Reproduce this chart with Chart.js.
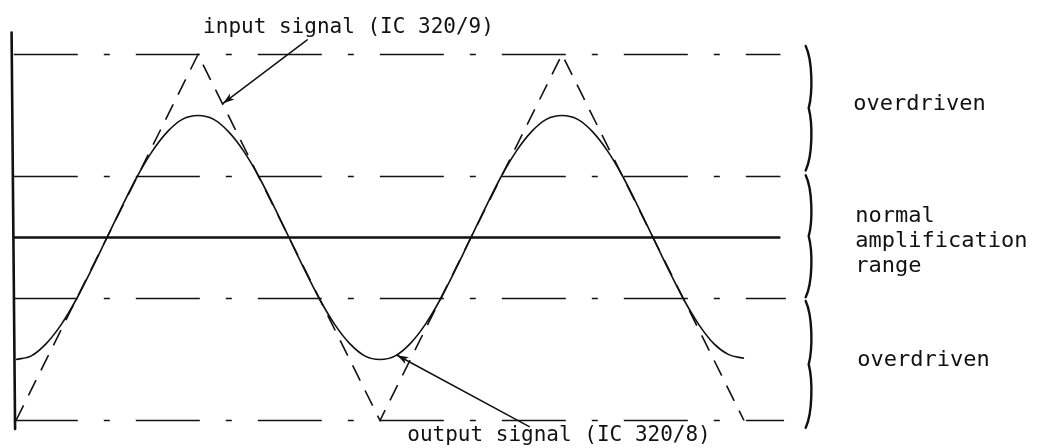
<!DOCTYPE html>
<html>
<head>
<meta charset="utf-8">
<script src="https://cdn.jsdelivr.net/npm/chart.js@4/dist/chart.umd.min.js"></script>
<style>
  html, body { margin: 0; padding: 0; background: #fff; }
  #wrap { width: 1037px; height: 448px; position: relative; }
  canvas { display: block; }
</style>
</head>
<body>
<div id="wrap"><canvas id="c" width="1037" height="448"></canvas></div>
<script>
// ---- data (time in signal periods, amplitude in relative units) ----
// output signal every 1/24 period
const outputT = [0,0.042,0.083,0.125,0.167,0.208,0.25,0.292,0.333,0.375,0.417,0.458,0.5,
                 0.542,0.583,0.625,0.667,0.708,0.75,0.792,0.833,0.875,0.917,0.958,1,
                 1.042,1.083,1.125,1.167,1.208,1.25,1.292,1.333,1.375,1.417,1.458,1.5,
                 1.542,1.583,1.625,1.667,1.708,1.75,1.792,1.833,1.875,1.917,1.958,2];
const outputV = [-1,-0.97,-0.87,-0.71,-0.5,-0.26,0,0.26,0.5,0.71,0.87,0.97,1,
                 0.97,0.87,0.71,0.5,0.26,0,-0.26,-0.5,-0.71,-0.87,-0.97,-1,
                 -0.97,-0.87,-0.71,-0.5,-0.26,0,0.26,0.5,0.71,0.87,0.97,1,
                 0.97,0.87,0.71,0.5,0.26,0,-0.26,-0.5,-0.71,-0.87,-0.96,-0.99];
const inputT = [0, 0.5, 1, 1.5, 2];
const inputV = [-1.5, 1.5, -1.5, 1.5, -1.5];
const levelValues = [1.5, 0.5, -0.5, -1.5];
const levelEnds = [2.1, 2.1, 2.115, 2.11];
const centerValue = 0;
const centerEnd = 2.1;
const lineStart = -0.006;
const bands = [[1.57, 0.55], [0.51, -0.49], [-0.52, -1.56]];
const bandLabels = [["overdriven"], ["normal", "amplification", "range"], ["overdriven"]];
const inputLabel = "input signal (IC 320/9)";
const outputLabel = "output signal (IC 320/8)";
const inputArrow = { from: [0.80, 1.62], to: [0.569, 1.10] };
const outputArrow = { from: [1.41, -1.55], to: [1.047, -0.965] };
const inputLabelPos = [0.514, 1.68];
const outputLabelPos = [1.075, -1.67];
const axisTop = 1.68, axisBottom = -1.57, axisT = -0.008;
const braceT = 2.175;
const bandLabelT = 2.3;

const pts = (xs, ys) => xs.map((x, i) => ({ x: x, y: ys[i] }));

const datasets = [];
levelValues.forEach((v, i) => {
  datasets.push({
    label: 'level ' + v,
    data: [{ x: lineStart, y: v }, { x: levelEnds[i], y: v }],
    borderColor: '#111', borderWidth: 1.6, borderDash: [64, 26, 6, 26],
    pointRadius: 0, fill: false
  });
});
datasets.push({
  label: 'center',
  data: [{ x: lineStart, y: centerValue }, { x: centerEnd, y: centerValue }],
  borderColor: '#111', borderWidth: 2.4, pointRadius: 0, fill: false
});
datasets.push({
  label: 'input signal',
  data: pts(inputT, inputV),
  borderColor: '#111', borderWidth: 1.6, borderDash: [17, 11],
  pointRadius: 0, fill: false, tension: 0
});
datasets.push({
  label: 'output signal',
  data: pts(outputT, outputV),
  borderColor: '#111', borderWidth: 1.6, pointRadius: 0, fill: false,
  cubicInterpolationMode: 'monotone'
});

const decor = {
  id: 'decor',
  afterDatasetsDraw(chart) {
    const ctx = chart.ctx;
    const xs = chart.scales.x, ys = chart.scales.y;
    const X = t => xs.getPixelForValue(t), Y = v => ys.getPixelForValue(v);
    ctx.save();
    ctx.strokeStyle = '#111';
    ctx.fillStyle = '#111';
    ctx.lineCap = 'round';
    // vertical axis
    ctx.lineWidth = 2.6;
    ctx.beginPath();
    ctx.moveTo(X(axisT) - 1.5, Y(axisTop));
    ctx.lineTo(X(axisT) + 2, Y(axisBottom));
    ctx.stroke();
    // arrows
    function arrow(a) {
      const x1 = X(a.from[0]), y1 = Y(a.from[1]), x2 = X(a.to[0]), y2 = Y(a.to[1]);
      ctx.lineWidth = 1.5;
      ctx.beginPath(); ctx.moveTo(x1, y1); ctx.lineTo(x2, y2); ctx.stroke();
      const ang = Math.atan2(y2 - y1, x2 - x1);
      const L = 12, w = 0.32;
      ctx.beginPath();
      ctx.moveTo(x2, y2);
      ctx.lineTo(x2 - L * Math.cos(ang - w), y2 - L * Math.sin(ang - w));
      ctx.lineTo(x2 - L * 0.7 * Math.cos(ang), y2 - L * 0.7 * Math.sin(ang));
      ctx.lineTo(x2 - L * Math.cos(ang + w), y2 - L * Math.sin(ang + w));
      ctx.closePath();
      ctx.fill();
    }
    arrow(inputArrow);
    arrow(outputArrow);
    // annotation labels
    ctx.font = '21px "DejaVu Sans Mono", monospace';
    ctx.textBaseline = 'alphabetic';
    ctx.textAlign = 'left';
    ctx.fillText(inputLabel, X(inputLabelPos[0]), Y(inputLabelPos[1]));
    ctx.fillText(outputLabel, X(outputLabelPos[0]), Y(outputLabelPos[1]));
    // braces and range labels
    ctx.font = '22px "DejaVu Sans Mono", monospace';
    bands.forEach((b, i) => {
      const top = Y(b[0]), bot = Y(b[1]), h = bot - top, mid = (top + bot) / 2;
      const x0 = X(braceT);
      ctx.lineWidth = 2.4;
      ctx.beginPath();
      ctx.moveTo(x0 - 2, top);
      ctx.bezierCurveTo(x0 + 5, top + h * 0.12, x0 + 5, top + h * 0.38, x0 + 1, mid);
      ctx.bezierCurveTo(x0 + 5, mid + h * 0.12, x0 + 5, bot - h * 0.12, x0 - 2, bot);
      ctx.stroke();
      const lines = bandLabels[i];
      const spacing = 25;
      const first = mid - (lines.length - 1) * spacing / 2 + (lines.length > 1 ? 11 : 2);
      lines.forEach((s, k) => {
        ctx.fillText(s, X(bandLabelT) + (lines.length > 1 ? 2 : 0) + (i === 2 ? 4 : 0), first + k * spacing);
      });
    });
    ctx.restore();
  }
};

new Chart(document.getElementById('c'), {
  type: 'line',
  data: { datasets: datasets },
  options: {
    responsive: false,
    animation: false,
    devicePixelRatio: 1,
    layout: { padding: 0 },
    plugins: { legend: { display: false }, tooltip: { enabled: false }, title: { display: false } },
    elements: { line: { borderCapStyle: 'butt' } },
    scales: {
      x: { type: 'linear', display: false, min: -16 / 364, max: (1037 - 16) / 364 },
      y: { type: 'linear', display: false, min: (237.5 - 448) / 122, max: 237.5 / 122 }
    }
  },
  plugins: [decor]
});
</script>
</body>
</html>
